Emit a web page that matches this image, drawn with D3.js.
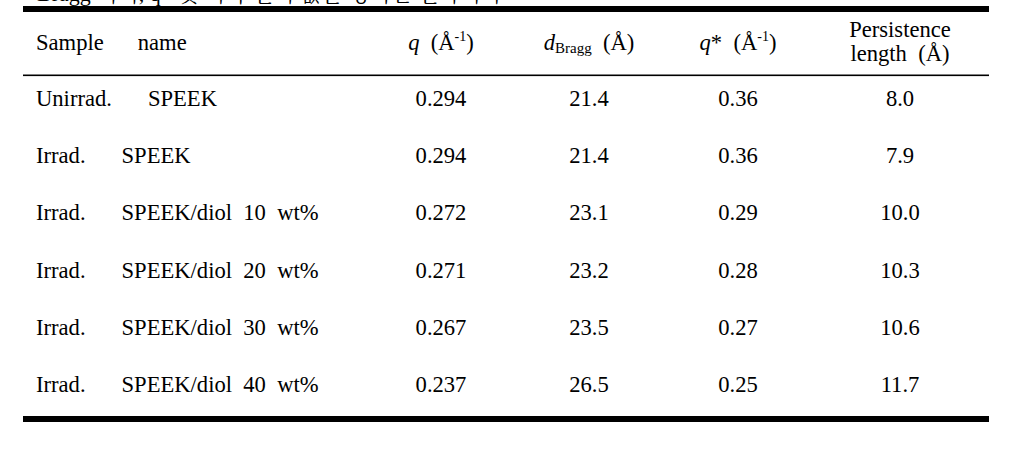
<!DOCTYPE html>
<html>
<head>
<meta charset="utf-8">
<script src="https://cdn.jsdelivr.net/npm/d3@7"></script>
<style>
  html, body { margin: 0; padding: 0; background: #fff; }
  svg { display: block; }
  svg text { fill: #000; white-space: pre; }
</style>
</head>
<body>
<svg class="canvas" width="1017" height="458"></svg>
<script>
// table data
const caption = 'Bragg 거리, q* 및 지속 길이 값을 정리한 결과이다';
const samplePrefix = ['Unirrad.', 'Irrad.', 'Irrad.', 'Irrad.', 'Irrad.', 'Irrad.'];
const sampleName = ['SPEEK', 'SPEEK', 'SPEEK/diol  10  wt%', 'SPEEK/diol  20  wt%', 'SPEEK/diol  30  wt%', 'SPEEK/diol  40  wt%'];
const qValues = [0.294, 0.294, 0.272, 0.271, 0.267, 0.237];
const dBragg = [21.4, 21.4, 23.1, 23.2, 23.5, 26.5];
const qStar = [0.36, 0.36, 0.29, 0.28, 0.27, 0.25];
const persistence = [8.0, 7.9, 10.0, 10.3, 10.6, 11.7];
const columns = ['q', 'dBragg', 'qStar', 'persistence'];

const serif = "'Liberation Serif', 'Times New Roman', serif";
const svg = d3.select('.canvas')
    .style('font-family', serif);
const fontSize = 22.6;
const left = 23, right = 989;
const nameGap = 36;

// scales
const xCol = d3.scaleOrdinal().domain(columns).range([441, 589, 738, 900]);
const yRow = d3.scalePoint().domain(d3.range(qValues.length)).range([106, 392]);

// caption (cut off at top of image)
svg.append('text')
    .attr('x', 37)
    .attr('y', 1)
    .style('font-family', "'Liberation Serif', 'Noto Serif CJK KR', 'Noto Sans CJK KR', serif")
    .style('font-size', '22px')
    .text(caption);

// rules
svg.append('rect').attr('x', left).attr('y', 6).attr('width', right - left).attr('height', 6).attr('fill', '#000');
svg.append('rect').attr('x', left).attr('y', 74.5).attr('width', right - left).attr('height', 1.6).attr('fill', '#000');
svg.append('rect').attr('x', left).attr('y', 416).attr('width', right - left).attr('height', 6).attr('fill', '#000');

// header
const headerY = 50;
const sampleText = svg.append('text')
    .attr('x', 36).attr('y', headerY)
    .style('font-size', fontSize + 'px')
    .text('Sample');
svg.append('text')
    .attr('x', 36 + sampleText.node().getComputedTextLength() + nameGap - 2)
    .attr('y', headerY)
    .style('font-size', fontSize + 'px')
    .text('name');

// q (Å-1)
const qHead = svg.append('text')
    .attr('x', xCol('q')).attr('y', headerY)
    .attr('text-anchor', 'middle')
    .style('font-size', fontSize + 'px');
qHead.append('tspan').style('font-style', 'italic').text('q');
qHead.append('tspan').text('  (Å');
qHead.append('tspan').attr('dy', -9).style('font-size', '14px').text('-1');
qHead.append('tspan').attr('dy', 9).text(')');

// dBragg (Å)
const dHead = svg.append('text')
    .attr('x', xCol('dBragg')).attr('y', headerY)
    .attr('text-anchor', 'middle')
    .style('font-size', fontSize + 'px');
dHead.append('tspan').style('font-style', 'italic').text('d');
dHead.append('tspan').attr('dy', 3).style('font-size', '15px').text('Bragg');
dHead.append('tspan').attr('dy', -3).text('  (Å)');

// q* (Å-1)
const qsHead = svg.append('text')
    .attr('x', xCol('qStar')).attr('y', headerY)
    .attr('text-anchor', 'middle')
    .style('font-size', fontSize + 'px');
qsHead.append('tspan').style('font-style', 'italic').text('q');
qsHead.append('tspan').text('*  (Å');
qsHead.append('tspan').attr('dy', -9).style('font-size', '14px').text('-1');
qsHead.append('tspan').attr('dy', 9).text(')');

// Persistence length (Å)
svg.append('text')
    .attr('x', xCol('persistence')).attr('y', 37)
    .attr('text-anchor', 'middle')
    .style('font-size', fontSize + 'px')
    .text('Persistence');
svg.append('text')
    .attr('x', xCol('persistence')).attr('y', 61)
    .attr('text-anchor', 'middle')
    .style('font-size', fontSize + 'px')
    .text('length  (Å)');

// rows
const rows = svg.selectAll('g.row')
    .data(d3.range(qValues.length))
    .enter()
    .append('g')
    .attr('class', 'row')
    .attr('transform', (i) => `translate(0, ${yRow(i)})`);

rows.each(function (i) {
    const g = d3.select(this);
    const pre = g.append('text')
        .attr('x', 36)
        .style('font-size', fontSize + 'px')
        .text(samplePrefix[i]);
    g.append('text')
        .attr('x', 36 + pre.node().getComputedTextLength() + nameGap)
        .style('font-size', fontSize + 'px')
        .text(sampleName[i]);

    const cells = [
        ['q', qValues[i].toFixed(3)],
        ['dBragg', dBragg[i].toFixed(1)],
        ['qStar', qStar[i].toFixed(2)],
        ['persistence', persistence[i].toFixed(1)]
    ];
    g.selectAll('text.cell')
        .data(cells)
        .enter()
        .append('text')
        .attr('class', 'cell')
        .attr('x', (d) => xCol(d[0]))
        .attr('text-anchor', 'middle')
        .style('font-size', fontSize + 'px')
        .text((d) => d[1]);
});
</script>
</body>
</html>
